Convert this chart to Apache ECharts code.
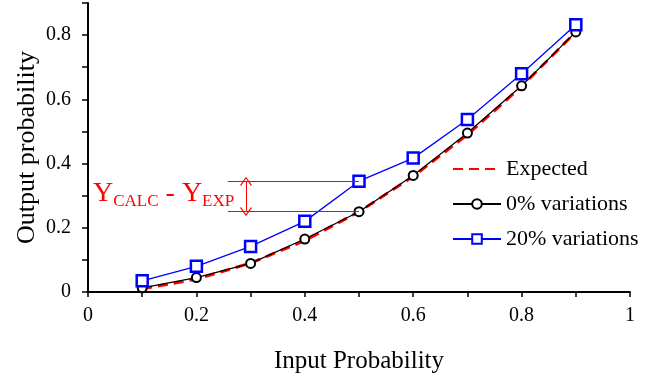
<!DOCTYPE html>
<html>
<head>
<meta charset="utf-8">
<script src="https://cdn.jsdelivr.net/npm/echarts@6/dist/echarts.min.js"></script>
<style>
  html, body { margin: 0; padding: 0; background: #fff; }
  #chart { width: 667px; height: 384px; }
</style>
</head>
<body>
<div id="chart"></div>
<script>
var inputProb = [0.1, 0.2, 0.3, 0.4, 0.5, 0.6, 0.7, 0.8, 0.9];
var expected = [0.01, 0.04, 0.09, 0.16, 0.25, 0.36, 0.49, 0.64, 0.81];
var var0 = [0.013, 0.045, 0.089, 0.165, 0.25, 0.363, 0.495, 0.642, 0.81];
var var20 = [0.035, 0.08, 0.142, 0.22, 0.345, 0.417, 0.537, 0.68, 0.832];

function pairs(ys) {
  return inputProb.map(function (x, i) { return [x, ys[i]]; });
}

var font = "Liberation Serif";
var myChart = echarts.init(document.getElementById("chart"));

// label only every 0.2
function evenLabel(v) {
  return Math.round(v * 10) % 2 === 0 ? String(+v.toFixed(1)) : "";
}

var annoX = 0.258, arrowX = 0.2915;
var chevron = "path://M0,10 L5,0 L10,10 L9,10.6 L5,2.2 L1,10.6 Z";

var option = {
  animation: false,
  backgroundColor: "#fff",
  grid: { left: 88, right: 37, top: 3, bottom: 92 },
  xAxis: {
    type: "value",
    min: 0,
    max: 1,
    interval: 0.1,
    name: "Input Probability",
    nameLocation: "middle",
    nameGap: 57,
    nameTextStyle: { fontFamily: font, fontSize: 25, color: "#000" },
    axisLine: { lineStyle: { color: "#000", width: 2 } },
    axisTick: { length: 5, lineStyle: { color: "#000", width: 1.5 } },
    axisLabel: { fontFamily: font, fontSize: 20, color: "#000", margin: 14, formatter: evenLabel },
    splitLine: { show: false }
  },
  yAxis: {
    type: "value",
    min: 0,
    max: 0.9,
    interval: 0.1,
    name: "Output probability",
    nameLocation: "middle",
    nameGap: 48,
    nameMoveOverlap: false,
    nameTextStyle: { fontFamily: font, fontSize: 26, color: "#000" },
    axisLine: { show: true, lineStyle: { color: "#000", width: 2 } },
    axisTick: { show: true, length: 6, lineStyle: { color: "#000", width: 1.5 } },
    axisLabel: { fontFamily: font, fontSize: 20, color: "#000", margin: 17, formatter: evenLabel },
    splitLine: { show: false }
  },
  legend: {
    orient: "vertical",
    left: 447,
    top: 153,
    itemWidth: 48,
    itemHeight: 12,
    itemGap: 13,
    textStyle: { fontFamily: font, fontSize: 22, color: "#000" },
    data: [
      { name: "Expected", itemStyle: { opacity: 0 } },
      "0% variations",
      "20% variations"
    ]
  },
  graphic: [
    {
      type: "text",
      left: 93,
      top: 180,
      style: {
        text: "{a|Y}{b|CALC}{a| - Y}{b|EXP}",
        rich: {
          a: { fontFamily: font, fontSize: 28, fill: "#ff0000", verticalAlign: "bottom" },
          b: { fontFamily: font, fontSize: 17, fill: "#ff0000", verticalAlign: "bottom", padding: [0, 0, -2, 0] }
        }
      }
    }
  ],
  series: [
    {
      name: "Expected",
      type: "line",
      data: pairs(expected),
      symbol: "none",
      z: 1,
      lineStyle: { color: "#ff0000", width: 3, type: [10, 6] },
      itemStyle: { color: "#ff0000" },
      markLine: {
        silent: true,
        symbol: "none",
        label: { show: false },
        lineStyle: { color: "#ff0000", width: 1, type: "solid" },
        data: [
          [{ coord: [annoX, var20[4]] }, { coord: [inputProb[4], var20[4]] }],
          [{ coord: [annoX, var0[4]] }, { coord: [inputProb[4], var0[4]] }],
          [
            { coord: [arrowX, var20[4]], symbol: chevron, symbolSize: [12, 9] },
            { coord: [arrowX, var0[4]], symbol: chevron, symbolSize: [12, 9] }
          ]
        ]
      }
    },
    {
      name: "0% variations",
      type: "line",
      data: pairs(var0),
      symbol: "circle",
      symbolSize: 9,
      z: 2,
      lineStyle: { color: "#000", width: 1.3 },
      itemStyle: { color: "#fff", borderColor: "#000", borderWidth: 2 }
    },
    {
      name: "20% variations",
      type: "line",
      data: pairs(var20),
      symbol: "rect",
      symbolSize: 11,
      z: 3,
      lineStyle: { color: "#0000ff", width: 1.3 },
      itemStyle: { color: "#fff", borderColor: "#0000ff", borderWidth: 2.5 }
    }
  ]
};

myChart.setOption(option);
</script>
</body>
</html>
